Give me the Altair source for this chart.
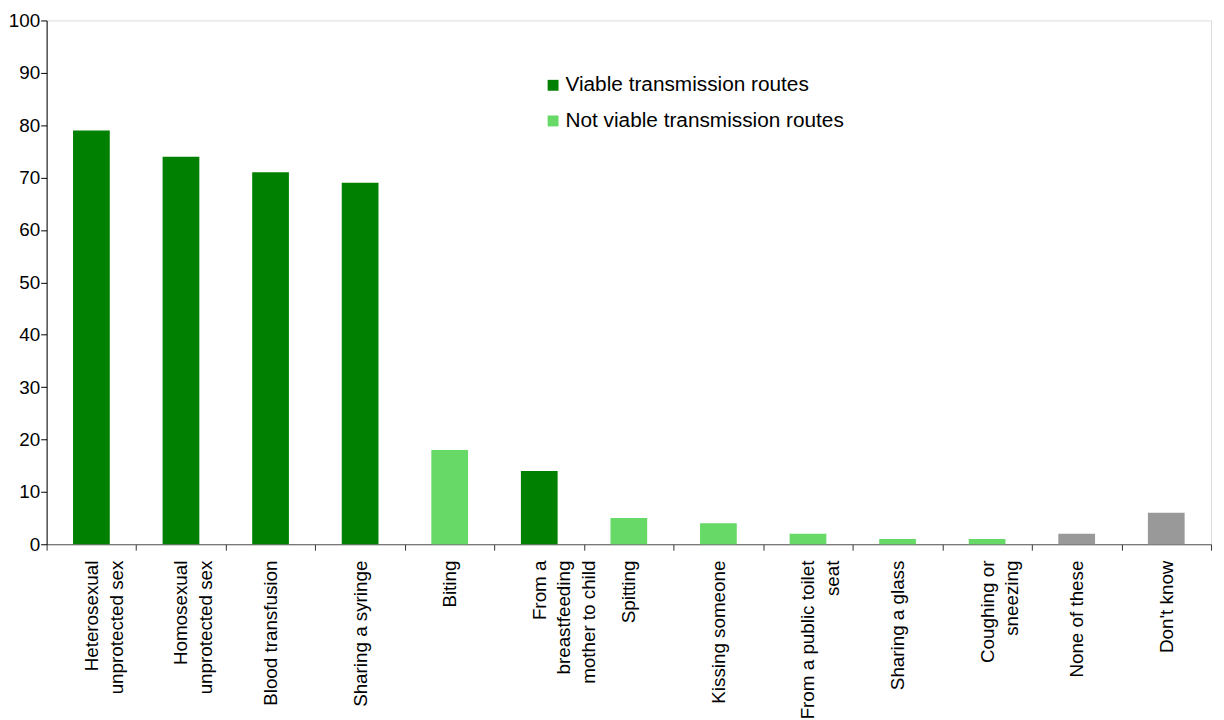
import altair as alt
import pandas as pd

NB = "\u00a0"

categories = [
    "Heterosexual" + NB * 2 + "|unprotected sex",
    "Homosexual" + NB * 3 + "|unprotected sex",
    "Blood transfusion",
    "Sharing a syringe",
    "Biting",
    "From a" + NB * 6 + "|breastfeeding" + NB + "|mother to child",
    "Spitting",
    "Kissing someone",
    "From a public toilet|seat" + NB * 12,
    "Sharing a glass",
    "Coughing or|sneezing" + NB * 3,
    "None of these",
    "Don't know",
]
values = [79, 74, 71, 69, 18, 14, 5, 4, 2, 1, 1, 2, 6]
groups = [
    "Viable transmission routes",
    "Viable transmission routes",
    "Viable transmission routes",
    "Viable transmission routes",
    "Not viable transmission routes",
    "Viable transmission routes",
    "Not viable transmission routes",
    "Not viable transmission routes",
    "Not viable transmission routes",
    "Not viable transmission routes",
    "Not viable transmission routes",
    "Other",
    "Other",
]
group_domain = ["Viable transmission routes", "Not viable transmission routes", "Other"]
group_colors = ["#008000", "#66D966", "#999999"]

df = pd.DataFrame({"category": categories, "value": values, "group": groups})

FONT = "Liberation Sans, Arial, sans-serif"

chart = (
    alt.Chart(df)
    .mark_bar(width=alt.RelativeBandSize(0.41))
    .encode(
        x=alt.X(
            "category:N",
            sort=None,
            title=None,
            scale=alt.Scale(paddingInner=0, paddingOuter=0),
            axis=alt.Axis(
                labelAngle=-90,
                labelAlign="right",
                labelBaseline="middle",
                labelExpr="split(datum.label, '|')",
                labelLineHeight=25,
                labelFontSize=19,
                labelFont=FONT,
                labelColor="black",
                labelPadding=10,
                tickBand="extent",
                tickSize=6,
                tickColor="#333333",
                domainColor="#555555",
                labelLimit=400,
                labelOverlap=False,
            ),
        ),
        y=alt.Y(
            "value:Q",
            title=None,
            scale=alt.Scale(domain=[0, 100], nice=False),
            axis=alt.Axis(
                values=list(range(0, 101, 10)),
                grid=False,
                tickSize=6,
                tickColor="black",
                domainColor="black",
                labelFontSize=19,
                labelFont=FONT,
                labelColor="black",
                labelPadding=1,
            ),
        ),
        color=alt.Color(
            "group:N",
            scale=alt.Scale(domain=group_domain, range=group_colors),
            legend=alt.Legend(
                title=None,
                values=group_domain[:2],
                orient="none",
                legendX=501,
                legendY=55,
                symbolType="square",
                symbolSize=121,
                symbolStrokeWidth=0,
                labelFontSize=21,
                labelFont=FONT,
                labelColor="black",
                labelOffset=2,
                rowPadding=14,
                labelLimit=500,
            ),
        ),
    )
    .properties(
        width=1176,
        height=529,
        autosize=alt.AutoSizeParams(type="none"),
        padding={"left": 39, "top": 9, "right": 5, "bottom": 180},
    )
    .configure_view(stroke=None)
    .configure(background="white")
)

chart.save("out.html", embed_options={"renderer": "svg", "actions": False})
